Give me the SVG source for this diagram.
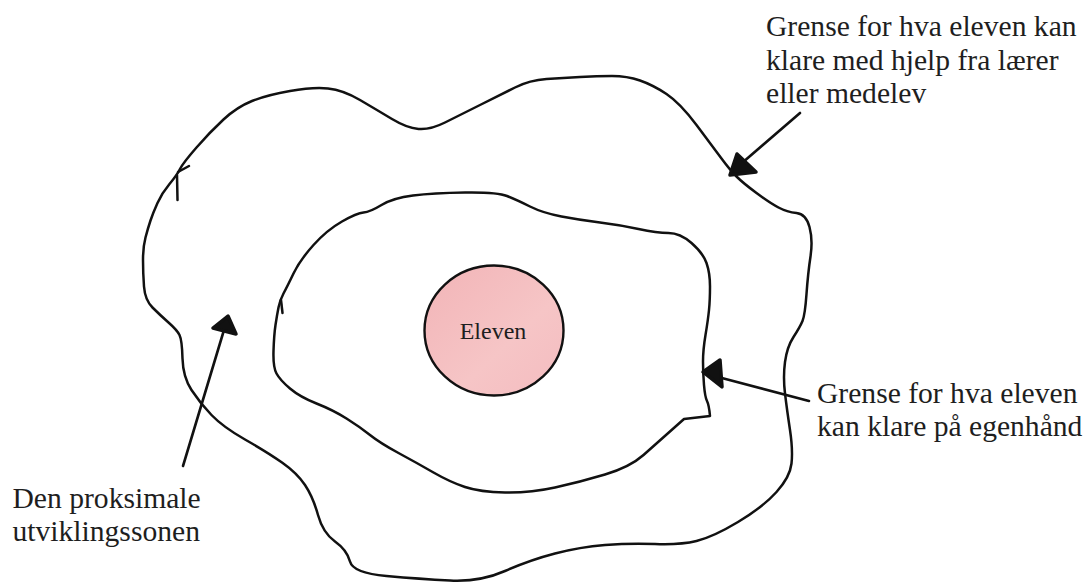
<svg xmlns="http://www.w3.org/2000/svg" width="1087" height="584" viewBox="0 0 1087 584">
  <defs>
    <linearGradient id="pink" x1="0" y1="0" x2="1" y2="1">
      <stop offset="0" stop-color="#f2b4b7"/>
      <stop offset="0.6" stop-color="#f6c5c6"/>
      <stop offset="1" stop-color="#f4bcc0"/>
    </linearGradient>
  </defs>
  <style>
    .curve { fill: none; stroke: #111; stroke-width: 2.5; stroke-linejoin: round; stroke-linecap: round; }
    .conn { fill: none; stroke: #111; stroke-width: 2.6; stroke-linecap: round; }
    .head { fill: #111; stroke: #111; stroke-width: 3.5; stroke-linejoin: round; }
    .lbl { font-family: "Liberation Serif", "Times New Roman", "DejaVu Serif", serif; font-size: 29.6px; fill: #1e1e1e; }
    .node-text { font-family: "Liberation Serif", "Times New Roman", "DejaVu Serif", serif; font-size: 24px; fill: #1e1e1e; }
  </style>
  <rect width="1087" height="584" fill="#ffffff"/>

  <g id="outer-boundary">
    <path class="curve" d="M152.5,307.5 Q145,300 144,286.5 Q143,273 143,260 Q143,247 145.5,237.5 Q148,228 150.5,220.5 Q153,213 157.5,203 Q162,193 169.5,184 Q177,175 180,169 Q183,163 196.5,147.5 Q210,132 223.5,119.5 Q237,107 252,101 Q267,95 290,91 Q313,87 328,88.5 Q343,90 360,100 Q377,110 392,119 Q407,128 418.5,129 Q430,130 445,122.5 Q460,115 480,105 Q500,95 515,87.5 Q530,80 546.5,79 Q563,78 580,77 Q597,76 612,76 Q627,76 640,80.5 Q653,85 666.5,94 Q680,103 696.5,125 Q713,147 721.5,158.5 Q730,170 736.5,176.5 Q743,183 756.5,193 Q770,203 778.5,207.5 Q787,212 796.5,213 Q806,214 809.5,227 Q813,240 810.5,256.5 Q808,273 806.5,294 Q805,315 802.5,321 Q800,327 793.5,337 Q787,347 785,362 Q783,377 785,393.5 Q787,410 790,430 Q793,450 791.5,463.5 Q790,477 776.5,492 Q763,507 738,522 Q713,537 696.5,541 Q680,545 655,544 Q630,543 605,545 Q580,547 555,553.5 Q530,560 505,571 Q480,582 450,580.5 Q420,579 386.5,576 Q353,573 350,561.5 Q347,550 335,541.5 Q323,533 318,515 Q313,497 305,485 Q297,473 282,462.5 Q267,452 245,439.5 Q223,427 211.5,415 Q200,403 191.5,390 Q183,377 182.5,358.5 Q182,340 179.5,335 Q177,330 168.5,322.5 Q160,315 152.5,307.5 Z"/>
    <path class="curve" d="M177,175 L177.5,200 M178,172 L189,166"/>
  </g>

  <g id="inner-boundary">
    <path class="curve" d="M278.5,307.5 Q280,300 283.5,293.5 Q287,287 293.5,273.5 Q300,260 313.5,245 Q327,230 342,221.5 Q357,213 363.5,212.5 Q370,212 381.5,205 Q393,198 413,195.5 Q433,193 465,192.5 Q497,192 507,196 Q517,200 530,206.5 Q543,213 561.5,216.5 Q580,220 600,222.5 Q620,225 638.5,229 Q657,233 668.5,233 Q680,233 691.5,243 Q703,253 706.5,263 Q710,273 710,286.5 Q710,300 709,310 Q708,320 705.5,335 Q703,350 703,361.5 Q703,373 704,385 Q705,397 707,401 Q709,405 710,416 L684,419 Q657,443 643.5,455 Q630,467 605,474.5 Q580,482 555,487.5 Q530,493 505,492.5 Q480,492 465,487 Q450,482 433.5,472.5 Q417,463 398.5,453 Q380,443 370,435 Q360,427 346.5,418.5 Q333,410 316.5,403.5 Q300,397 290,388.5 Q280,380 276.5,373.5 Q273,367 273.5,351 Q274,335 275.5,325 Q277,315 278.5,307.5 Z"/>
    <path class="curve" d="M281,300 L282.5,313"/>
  </g>

  <g id="node-eleven">
    <ellipse cx="494" cy="330.5" rx="69.5" ry="65" fill="url(#pink)" stroke="#111" stroke-width="2.4"/>
    <text class="node-text" x="493" y="339" text-anchor="middle">Eleven</text>
  </g>

  <g id="connectors">
    <line class="conn" x1="800" y1="113" x2="742" y2="163"/>
    <polygon class="head" points="737,154 756,172 730,175"/>
    <line class="conn" x1="809" y1="401" x2="718" y2="377"/>
    <polygon class="head" points="703,372 720,360 722,387"/>
    <line class="conn" x1="183" y1="466" x2="224" y2="330"/>
    <polygon class="head" points="213,328 228,316 236,334"/>
  </g>

  <g id="label-outer">
    <text class="lbl" x="766" y="36">Grense for hva eleven kan</text>
    <text class="lbl" x="766" y="69.5">klare med hjelp fra lærer</text>
    <text class="lbl" x="766" y="103">eller medelev</text>
  </g>

  <g id="label-inner">
    <text class="lbl" x="817" y="403">Grense for hva eleven</text>
    <text class="lbl" x="817" y="436">kan klare på egenhånd</text>
  </g>

  <g id="label-zone">
    <text class="lbl" x="12.5" y="508">Den proksimale</text>
    <text class="lbl" x="12.5" y="541">utviklingssonen</text>
  </g>
</svg>
